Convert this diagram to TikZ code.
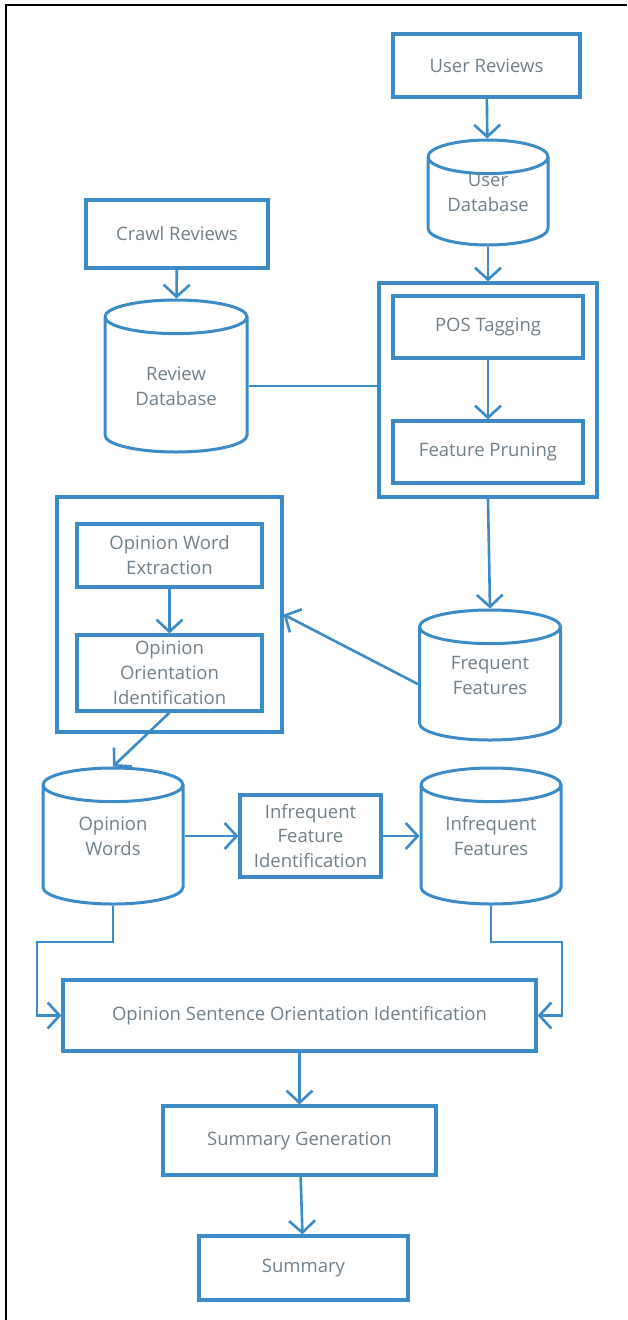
\documentclass[tikz,border=0pt]{standalone}
\usepackage{fontspec}
\setmainfont{Open Sans}
\usetikzlibrary{shapes.geometric,arrows.meta}
\definecolor{flowblue}{HTML}{3A8BC6}
\definecolor{labelgray}{HTML}{6F7E88}
\begin{document}
\begin{tikzpicture}[x=1pt,y=-1pt]
	\tikzstyle{ProcStyle}=[draw=flowblue,line width=3.2pt,rectangle,align=center,text=labelgray,font=\fontsize{18.5}{25}\selectfont,inner sep=0pt]
	\tikzstyle{DbStyle}=[draw=flowblue,line width=3pt,cylinder,shape border rotate=90,aspect=0.42,text width=80pt,anchor=shape center,inner sep=0pt]
	\tikzstyle{DbText}=[align=center,text=labelgray,font=\fontsize{18.5}{25}\selectfont,inner sep=0pt]
	\tikzstyle{GroupStyle}=[draw=flowblue,line width=3.2pt,rectangle,inner sep=0pt]
	\tikzstyle{EdgeStyle}=[flowblue,line width=2.6pt,-{Straight Barb[length=12pt,width=26pt]}]
	\useasboundingbox (0,0) rectangle (627,1320);
	\draw[line width=2.5pt] (6,1320) -- (6,5) -- (627,5);
	\node[ProcStyle,minimum width=187pt,minimum height=63pt] (userrev) at (486.5,65.5) {User Reviews};
	\node[DbStyle,minimum width=120pt,minimum height=105pt] (userdb) at (488,192.5) {};
	\node[DbText] (userdbtxt) at (userdb.shape center) {User\\Database};
	\node[GroupStyle,minimum width=218pt,minimum height=214pt] (prepgrp) at (488,390) {};
	\node[ProcStyle,minimum width=190pt,minimum height=62pt] (postag) at (488,327) {POS Tagging};
	\node[ProcStyle,minimum width=190pt,minimum height=62pt] (prune) at (488,452) {Feature Pruning};
	\node[ProcStyle,minimum width=182pt,minimum height=68pt] (crawl) at (177,234) {Crawl Reviews};
	\node[DbStyle,minimum width=142pt,minimum height=152pt] (reviewdb) at (176,376) {};
	\node[DbText] (reviewdbtxt) at ([yshift=-10pt]reviewdb.shape center) {Review\\Database};
	\node[DbStyle,minimum width=141pt,minimum height=130pt] (freqfeat) at (490,675) {};
	\node[DbText] (freqfeattxt) at (freqfeat.shape center) {Frequent\\Features};
	\node[GroupStyle,minimum width=225pt,minimum height=235pt] (opgrp) at (169.5,614.5) {};
	\node[ProcStyle,minimum width=185pt,minimum height=63pt] (opext) at (169.5,555.5) {Opinion Word\\Extraction};
	\node[ProcStyle,minimum width=185pt,minimum height=76pt] (oporient) at (169.5,673) {Opinion\\Orientation\\Identification};
	\node[DbStyle,minimum width=140pt,minimum height=136pt] (opwords) at (113,836) {};
	\node[DbText] (opwordstxt) at (opwords.shape center) {Opinion\\Words};
	\node[ProcStyle,minimum width=141pt,minimum height=82pt] (infreqid) at (310.5,836) {Infrequent\\Feature\\Identification};
	\node[DbStyle,minimum width=140pt,minimum height=136pt] (infreqfeat) at (491,836) {};
	\node[DbText] (infreqfeattxt) at (infreqfeat.shape center) {Infrequent\\Features};
	\node[ProcStyle,minimum width=473pt,minimum height=71pt] (osoi) at (299.5,1015.5) {Opinion Sentence Orientation Identification};
	\node[ProcStyle,minimum width=273pt,minimum height=69pt] (sumgen) at (299.5,1140.5) {Summary Generation};
	\node[ProcStyle,minimum width=209pt,minimum height=64pt] (summary) at (303.5,1268) {Summary};
	\coordinate (lbend) at (37,942);
	\coordinate (rbend) at (562,942);
	\draw[EdgeStyle] (userrev) -- (userdb);
	\draw[EdgeStyle] (userdb) -- (prepgrp);
	\draw[EdgeStyle] (crawl) -- (reviewdb);
	\draw[EdgeStyle] (postag) -- (prune);
	\draw[EdgeStyle,-] (reviewdbtxt -| reviewdb.east) -- (reviewdbtxt -| prepgrp.west);
	\draw[EdgeStyle] (prepgrp.south) -- (freqfeat.north);
	\draw[EdgeStyle] (freqfeat.west) -- (opgrp.east);
	\draw[EdgeStyle] (opext) -- (oporient);
	\draw[EdgeStyle] (oporient.south) -- (opwords.north);
	\draw[EdgeStyle] (infreqid.west -| opwords.east) -- (infreqid.west);
	\draw[EdgeStyle] (infreqid.east) -- (infreqid.east -| infreqfeat.west);
	\draw[EdgeStyle] (opwords.south) |- (lbend) |- (osoi.west);
	\draw[EdgeStyle] (infreqfeat.south) |- (rbend) |- (osoi.east);
	\draw[EdgeStyle] (osoi) -- (sumgen);
	\draw[EdgeStyle] (sumgen) -- (summary);
\end{tikzpicture}
\end{document}
